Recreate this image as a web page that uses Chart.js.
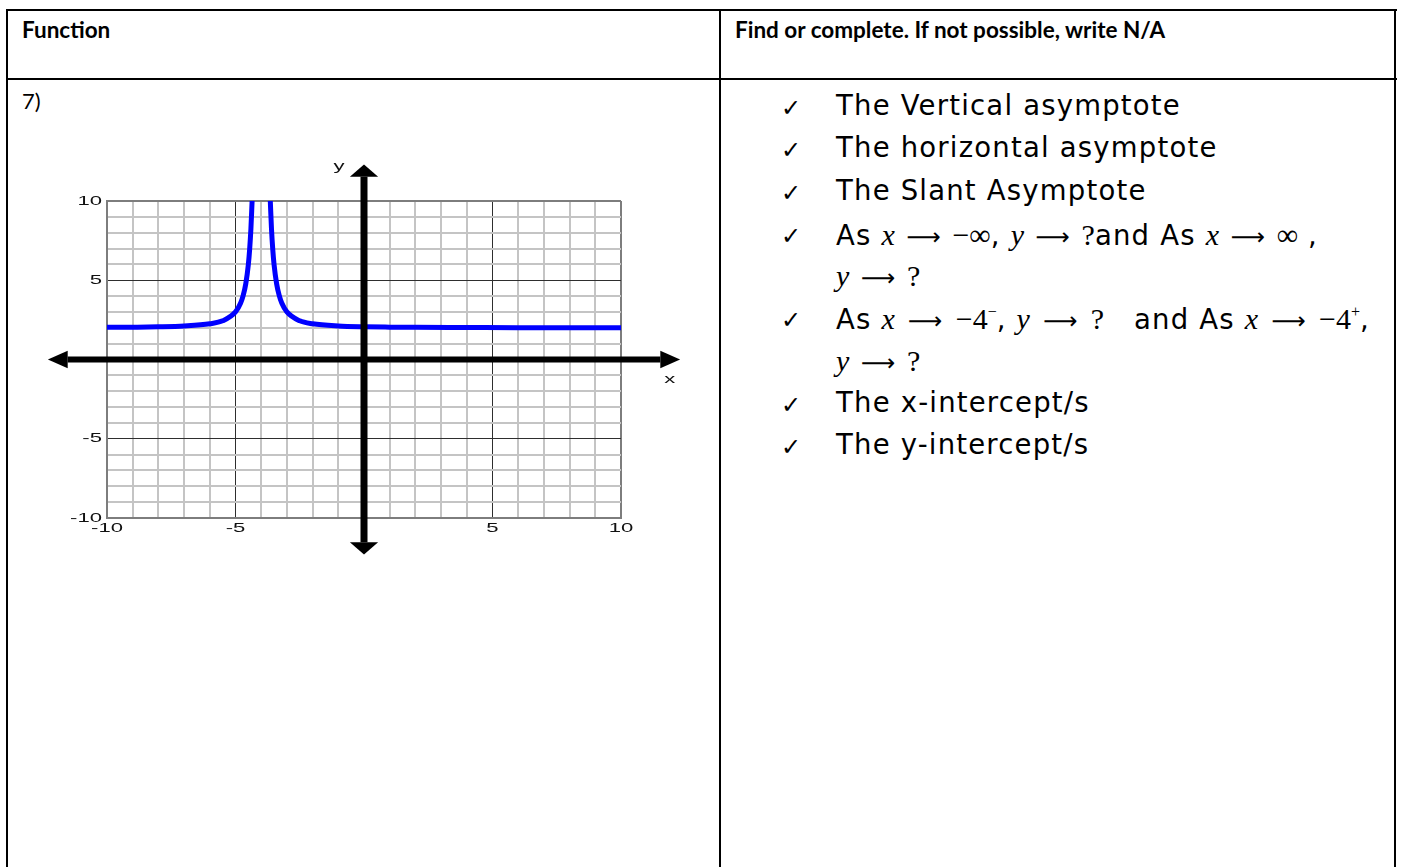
<!DOCTYPE html>
<html>
<head>
<meta charset="utf-8">
<script src="https://cdn.jsdelivr.net/npm/chart.js@4/dist/chart.umd.min.js"></script>
<style>
  html, body { margin:0; padding:0; background:#fff; }
  body { width:1403px; height:867px; position:relative; overflow:hidden; }
  .ln { position:absolute; background:#000; }
  .t { position:absolute; white-space:nowrap; color:#000; line-height:1; }
  .hd { font-family:Lato, "Open Sans", sans-serif; font-weight:700; font-size:22.5px; }
  .it { font-family:"DejaVu Sans", sans-serif; font-size:27.5px; letter-spacing:1.2px; }
  .ck { position:absolute; font-family:"DejaVu Sans", sans-serif; font-size:24px; line-height:1; }
  .grp { display:inline-block; letter-spacing:0; }
  .m { font-family:"Liberation Serif", "DejaVu Serif", serif; font-size:30px; }
  .mi { font-style:italic; }
  .ar { font-family:"DejaVu Sans", sans-serif; font-size:24px; margin:0 3px; }
  sup { font-size:16px; vertical-align: 12px; line-height:0; }
  #wrap { position:absolute; left:20px; top:150px; width:680px; height:420px; }
</style>
</head>
<body>
<!-- table rules -->
<div class="ln" style="left:6px; top:9px; width:1391px; height:2px;"></div>
<div class="ln" style="left:6px; top:78px; width:1391px; height:2px;"></div>
<div class="ln" style="left:6px; top:9px; width:2px; height:858px;"></div>
<div class="ln" style="left:719px; top:9px; width:2px; height:858px;"></div>
<div class="ln" style="left:1394px; top:9px; width:2px; height:858px;"></div>

<div class="t hd" style="left:22px; top:19px;">Function</div>
<div class="t hd" style="left:735px; top:19px;">Find or complete. If not possible, write N/A</div>
<div class="t" style="left:22px; top:90px; font-family:Lato, sans-serif; font-size:22px;">7)</div>

<div id="items"></div>

<div id="wrap"><canvas id="c" width="680" height="420"></canvas></div>

<script>
// ---- data ----
const xTickLabels = ['-10', '-5', '5', '10'];
const yTickLabels = ['10', '5', '-5', '-10'];
const leftBranchX  = [-10, -9, -8, -7, -6, -5.5, -5, -4.8, -4.7, -4.6, -4.5, -4.45, -4.4, -4.354];
const leftBranchY  = [2.03, 2.04, 2.06, 2.11, 2.25, 2.44, 3.0, 3.56, 4.04, 4.78, 6.0, 6.94, 8.25, 10];
const rightBranchX = [-3.646, -3.6, -3.55, -3.5, -3.4, -3.3, -3.2, -3, -2.5, -2, -1, 0, 1, 2, 4, 6, 8, 10];
const rightBranchY = [10, 8.25, 6.94, 6.0, 4.78, 4.04, 3.56, 3.0, 2.44, 2.25, 2.11, 2.06, 2.04, 2.03, 2.02, 2.01, 2.01, 2.01];
const axisReach = 12.3;   // arrow tips, in axis units
const arrowLen = 0.77;
const arrowHalf = 0.55;

// ---- checklist on the right ----
const g = (vName, rhs) => '<span class="grp"><span class="m mi">' + vName + '</span><span class="ar">⟶</span><span class="m">' + rhs + '</span></span>';
const itemRows = [
  { y: 108, check: true,  html: 'The Vertical asymptote' },
  { y: 150, check: true,  html: 'The horizontal asymptote' },
  { y: 193, check: true,  html: 'The Slant Asymptote' },
  { y: 236, check: true,  right: 1318, html: 'As ' + g('x', '−∞') + ', ' + g('y', '?') + 'and As ' + g('x', '∞') + ' ,' },
  { y: 277, check: false, html: g('y', '?') },
  { y: 320, check: true,  right: 1370, html: 'As ' + g('x', '−4<sup>−</sup>') + ', ' + g('y', '?') + '&nbsp;&nbsp; and As ' + g('x', '−4<sup>+</sup>') + ',' },
  { y: 362, check: false, html: g('y', '?') },
  { y: 405, check: true,  html: 'The x-intercept/s' },
  { y: 447, check: true,  html: 'The y-intercept/s' }
];
const itemsEl = document.getElementById('items');
let arrowGap = null;
itemRows.forEach(r => {
  if (r.check) {
    const c = document.createElement('div');
    c.className = 'ck';
    c.style.left = '781px';
    c.style.top = (r.y - 12) + 'px';
    c.textContent = '✓';
    itemsEl.appendChild(c);
  }
  const d = document.createElement('div');
  d.className = 't it';
  d.style.left = '836px';
  d.style.top = (r.y - 16) + 'px';
  d.innerHTML = r.html;
  itemsEl.appendChild(d);
  if (r.right) {
    // widen the space round the arrows so the line ends where the source line ends
    const arrows = d.querySelectorAll('.ar');
    const extra = r.right - d.getBoundingClientRect().right;
    if (extra > 0) {
      const gap = 3 + extra / (2 * arrows.length);
      arrows.forEach(a => { a.style.margin = '0 ' + gap + 'px'; });
      arrowGap = arrowGap === null ? gap : Math.min(arrowGap, gap);
    }
  }
});
if (arrowGap !== null) {
  itemsEl.querySelectorAll('.t').forEach(d => {
    if (d.textContent.trim().startsWith('y')) d.querySelectorAll('.ar').forEach(a => { a.style.margin = '0 ' + arrowGap + 'px'; });
  });
}

// ---- chart ----
const pts = (xs, ys) => xs.map((x, i) => ({ x, y: ys[i] }));

function gridColor(val) {
  if (Math.abs(val) === 10 || val === 0) return '#7d7d7d';
  if (val % 5 === 0) return '#2e2e2e';
  return '#c4c4c4';
}
function gridWidth(val) {
  if (Math.abs(val) === 10) return 2;
  if (val % 5 === 0) return 1;
  return 2;
}

const axesPlugin = {
  id: 'arrowAxes',
  afterDatasetsDraw(chart) {
    const ctx = chart.ctx;
    const xs = chart.scales.x, ys = chart.scales.y;
    const X = val => xs.getPixelForValue(val), Y = val => ys.getPixelForValue(val);
    ctx.save();
    ctx.fillStyle = '#000';
    ctx.strokeStyle = '#000';
    ctx.lineWidth = 7;
    ctx.beginPath();
    ctx.moveTo(X(0), Y(axisReach - arrowLen));
    ctx.lineTo(X(0), Y(-axisReach + arrowLen));
    ctx.stroke();
    ctx.lineWidth = 6;
    ctx.beginPath();
    ctx.moveTo(X(-axisReach + arrowLen), Y(0));
    ctx.lineTo(X(axisReach - arrowLen), Y(0));
    ctx.stroke();
    const tri = (a, b, c) => {
      ctx.beginPath();
      ctx.moveTo(a[0], a[1]); ctx.lineTo(b[0], b[1]); ctx.lineTo(c[0], c[1]);
      ctx.closePath(); ctx.fill();
    };
    const bY = axisReach - arrowLen;
    tri([X(0), Y(axisReach)], [X(-arrowHalf), Y(bY)], [X(arrowHalf), Y(bY)]);
    tri([X(0), Y(-axisReach)], [X(-arrowHalf), Y(-bY)], [X(arrowHalf), Y(-bY)]);
    tri([X(-axisReach), Y(0)], [X(-bY), Y(arrowHalf)], [X(-bY), Y(-arrowHalf)]);
    tri([X(axisReach), Y(0)], [X(bY), Y(arrowHalf)], [X(bY), Y(-arrowHalf)]);

    // labels, horizontally stretched like the source image
    ctx.font = '13px "Liberation Sans", Arial, sans-serif';
    ctx.fillStyle = '#111';
    ctx.textBaseline = 'middle';
    const stretchText = (s, px, py, align) => {
      ctx.save(); ctx.translate(px, py); ctx.scale(1.7, 1);
      ctx.textAlign = align; ctx.fillText(s, 0, 0); ctx.restore();
    };
    yTickLabels.forEach(l => stretchText(l, xs.left - 5, Y(Number(l)), 'right'));
    xTickLabels.forEach(l => stretchText(l, X(Number(l)), ys.bottom + 10, 'center'));
    stretchText('y', X(-0.97), Y(12.2), 'center');
    stretchText('x', X(11.9), Y(-1.25), 'center');
    ctx.restore();
  }
};

new Chart(document.getElementById('c'), {
  type: 'scatter',
  data: {
    datasets: [
      { data: pts(leftBranchX, leftBranchY), borderColor: '#0000ff', backgroundColor: '#0000ff' },
      { data: pts(rightBranchX, rightBranchY), borderColor: '#0000ff', backgroundColor: '#0000ff' }
    ]
  },
  options: {
    responsive: false,
    devicePixelRatio: 1,
    animation: false,
    layout: { padding: { left: 0, top: 51, right: 79, bottom: 0 } },
    datasets: {
      scatter: {
        showLine: true,
        borderWidth: 5,
        pointRadius: 0,
        pointHoverRadius: 0,
        cubicInterpolationMode: 'monotone',
        borderCapStyle: 'butt',
        fill: false
      }
    },
    plugins: { legend: { display: false }, tooltip: { enabled: false } },
    scales: {
      x: {
        type: 'linear', min: -10, max: 10,
        afterFit(s) { s.height = 52; },
        border: { display: true, color: '#7d7d7d', width: 2 },
        grid: {
          drawTicks: false,
          color: c => gridColor(c.tick.value),
          lineWidth: c => gridWidth(c.tick.value)
        },
        ticks: { display: false, stepSize: 1, autoSkip: false }
      },
      y: {
        type: 'linear', min: -10, max: 10,
        afterFit(s) { s.width = 87; },
        border: { display: true, color: '#7d7d7d', width: 2 },
        grid: {
          drawTicks: false,
          color: c => gridColor(c.tick.value),
          lineWidth: c => gridWidth(c.tick.value)
        },
        ticks: { display: false, stepSize: 1, autoSkip: false }
      }
    }
  },
  plugins: [axesPlugin]
});
</script>
</body>
</html>
